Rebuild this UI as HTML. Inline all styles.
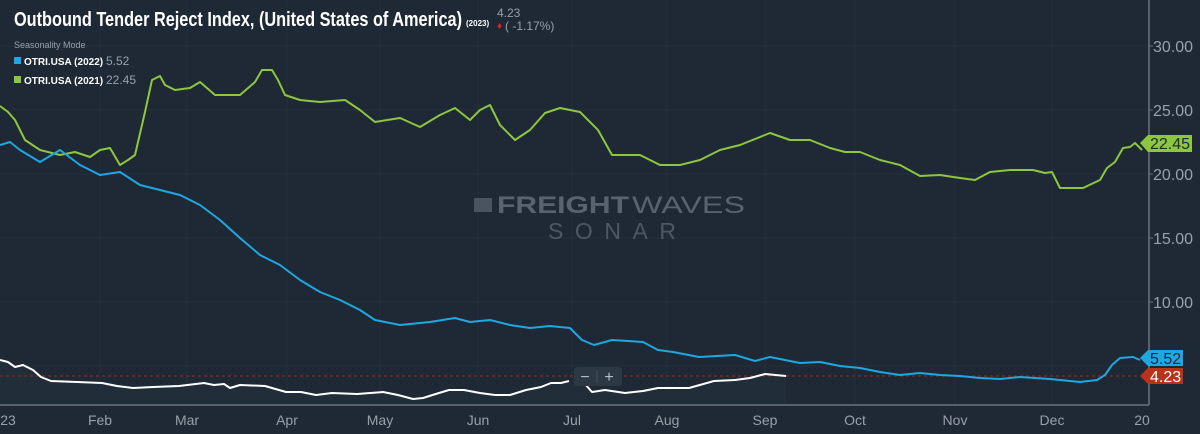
<!DOCTYPE html>
<html><head><meta charset="utf-8"><style>
body{margin:0;background:#1e2935;}
svg{display:block}
text{font-family:"Liberation Sans",sans-serif}
</style></head><body>
<svg width="1200" height="434" viewBox="0 0 1200 434" xmlns="http://www.w3.org/2000/svg">
<rect width="1200" height="434" fill="#1e2935"/>
<g stroke="#232f3b" stroke-width="1">
<line x1="0" y1="46" x2="1149" y2="46"/><line x1="0" y1="110" x2="1149" y2="110"/><line x1="0" y1="174" x2="1149" y2="174"/><line x1="0" y1="238" x2="1149" y2="238"/><line x1="0" y1="302" x2="1149" y2="302"/><line x1="0" y1="366" x2="1149" y2="366"/>
<line x1="100" y1="0" x2="100" y2="405"/><line x1="187" y1="0" x2="187" y2="405"/><line x1="287" y1="0" x2="287" y2="405"/><line x1="380" y1="0" x2="380" y2="405"/><line x1="478" y1="0" x2="478" y2="405"/><line x1="572" y1="0" x2="572" y2="405"/><line x1="667" y1="0" x2="667" y2="405"/><line x1="765" y1="0" x2="765" y2="405"/><line x1="855" y1="0" x2="855" y2="405"/><line x1="955" y1="0" x2="955" y2="405"/><line x1="1052" y1="0" x2="1052" y2="405"/>
</g>
<text x="497" y="213" font-size="24" font-weight="bold" fill="#59636d" textLength="132" lengthAdjust="spacingAndGlyphs">FREIGHT</text>
<text x="632" y="213" font-size="24" fill="#59636d" textLength="113" lengthAdjust="spacingAndGlyphs">WAVES</text>
<rect x="474" y="198" width="18" height="14" fill="#4a545e"/>
<text x="548" y="239" font-size="23" fill="#4e5862" textLength="128" lengthAdjust="spacing">SONAR</text>
<polygon fill="#222d3a" points="0,405 0,360 8,362 15,367 23,365 33,370 41,377 51,381 77,382 102,383 117,386 133,388 153,387 179,386 204,383 214,385 224,384 230,388 240,385 265,386 286,392 301,392 316,395 332,393 357,394 383,392 398,395 413,399 423,398 439,393 449,390 464,390 480,393 495,395 510,395 526,390 541,387 551,383 561,383 569,381 584,383 592,392 605,390 625,393 643,391 658,388 689,388 714,381 735,380 750,378 765,374 786,376 786,405"/>
<line x1="0" y1="376" x2="1149" y2="376" stroke="#8a2a22" stroke-width="1.2" stroke-dasharray="3,3"/>
<polyline fill="none" stroke="#8dc63f" stroke-width="2" stroke-linejoin="round" points="0,106 8,112 15,120 25,140 40,150 60,155 75,152 90,157 100,150 110,148 120,165 128,160 135,155 145,112 152,80 160,76 165,85 175,90 190,88 200,82 215,95 240,95 255,82 262,70 272,70 278,80 285,95 300,100 320,102 345,100 360,110 375,122 400,118 420,127 440,115 455,108 470,120 480,110 490,105 500,125 515,140 530,130 545,113 560,108 580,112 598,130 612,155 640,155 660,165 680,165 700,160 720,150 740,145 770,133 790,140 810,140 830,148 845,152 860,152 880,160 900,165 920,176 940,175 960,178 975,180 990,172 1010,170 1033,170 1045,173 1052,172 1060,188 1083,188 1100,180 1107,168 1115,162 1123,148 1130,147 1135,143 1142,150"/>
<polyline fill="none" stroke="#1fa7e1" stroke-width="2" stroke-linejoin="round" points="0,145 10,142 20,150 40,162 60,150 80,165 100,175 120,172 140,185 160,190 180,195 200,205 220,220 240,238 260,255 280,265 300,280 320,292 340,300 360,310 375,320 385,322 400,325 430,322 455,318 470,322 490,320 510,325 530,328 550,326 570,328 582,340 594,345 612,340 643,342 658,350 673,352 699,357 735,355 755,361 770,357 800,363 820,362 840,366 860,368 880,372 900,375 920,373 940,375 960,376 980,378 1000,379 1020,377 1050,379 1080,382 1097,380 1105,375 1112,365 1120,358 1133,357 1140,360"/>
<polyline fill="none" stroke="#ffffff" stroke-width="2" stroke-linejoin="round" points="0,360 8,362 15,367 23,365 33,370 41,377 51,381 77,382 102,383 117,386 133,388 153,387 179,386 204,383 214,385 224,384 230,388 240,385 265,386 286,392 301,392 316,395 332,393 357,394 383,392 398,395 413,399 423,398 439,393 449,390 464,390 480,393 495,395 510,395 526,390 541,387 551,383 561,383 569,381"/>
<polyline fill="none" stroke="#ffffff" stroke-width="2" stroke-linejoin="round" points="584,383 592,392 605,390 625,393 643,391 658,388 689,388 714,381 735,380 750,378 765,374 786,376"/>
<rect x="574" y="367" width="48" height="19" rx="3" fill="#2c3844"/>
<text x="585" y="382" font-size="16" fill="#b8c0c8" text-anchor="middle">−</text>
<line x1="597" y1="370" x2="597" y2="383" stroke="#44505c"/>
<text x="609" y="382" font-size="16" fill="#b8c0c8" text-anchor="middle">+</text>
<line x1="0" y1="405" x2="1149" y2="405" stroke="#6b747d" stroke-width="1.5"/>
<line x1="1149" y1="0" x2="1149" y2="405" stroke="#6b747d" stroke-width="1.5"/>
<g stroke="#6b747d"><line x1="1149" y1="46" x2="1153" y2="46"/><line x1="1149" y1="110" x2="1153" y2="110"/><line x1="1149" y1="174" x2="1153" y2="174"/><line x1="1149" y1="238" x2="1153" y2="238"/><line x1="1149" y1="302" x2="1153" y2="302"/></g>
<g font-size="16" fill="#98a0a8">
<text x="1153" y="52">30.00</text><text x="1153" y="116">25.00</text><text x="1153" y="180">20.00</text><text x="1153" y="244">15.00</text><text x="1153" y="308">10.00</text>
</g>
<g font-size="14" fill="#98a0a8" text-anchor="middle">
<text x="8" y="425">23</text><text x="100" y="425">Feb</text><text x="187" y="425">Mar</text><text x="287" y="425">Apr</text><text x="380" y="425">May</text><text x="478" y="425">Jun</text><text x="572" y="425">Jul</text><text x="667" y="425">Aug</text><text x="765" y="425">Sep</text><text x="855" y="425">Oct</text><text x="955" y="425">Nov</text><text x="1052" y="425">Dec</text><text x="1142" y="425">20</text>
</g>
<polygon points="1140,143 1148,135 1192,135 1192,152 1148,152" fill="#8dc63f"/>
<text x="1150" y="149" font-size="16" fill="#1e2935">22.45</text>
<polygon points="1140,358 1148,350 1183,350 1183,366 1148,366" fill="#1fa7e1"/>
<text x="1150" y="364" font-size="16" fill="#1e2935">5.52</text>
<polygon points="1140,376 1148,368 1183,368 1183,384 1148,384" fill="#b93318"/>
<text x="1150" y="382" font-size="16" fill="#ffffff">4.23</text>
<text x="14" y="26" font-size="20" font-weight="bold" fill="#ffffff" textLength="448" lengthAdjust="spacingAndGlyphs">Outbound Tender Reject Index, (United States of America)</text>
<text x="466" y="26" font-size="8" font-weight="bold" fill="#ffffff">(2023)</text>
<text x="497" y="17" font-size="12" fill="#98a0a8">4.23</text>
<text x="497" y="29" font-size="10" fill="#e0202a">♦</text>
<text x="505" y="30" font-size="12" fill="#98a0a8">( -1.17%)</text>
<text x="14" y="48" font-size="9" fill="#98a0a8">Seasonality Mode</text>
<rect x="14" y="57" width="7" height="7" fill="#1fa7e1"/>
<text x="24" y="65" font-size="10" font-weight="bold" fill="#ffffff">OTRI.USA (2022)</text>
<text x="106" y="65" font-size="12" fill="#98a0a8">5.52</text>
<rect x="14" y="76" width="7" height="7" fill="#8dc63f"/>
<text x="24" y="84" font-size="10" font-weight="bold" fill="#ffffff">OTRI.USA (2021)</text>
<text x="106" y="84" font-size="12" fill="#98a0a8">22.45</text>
</svg>
</body></html>
